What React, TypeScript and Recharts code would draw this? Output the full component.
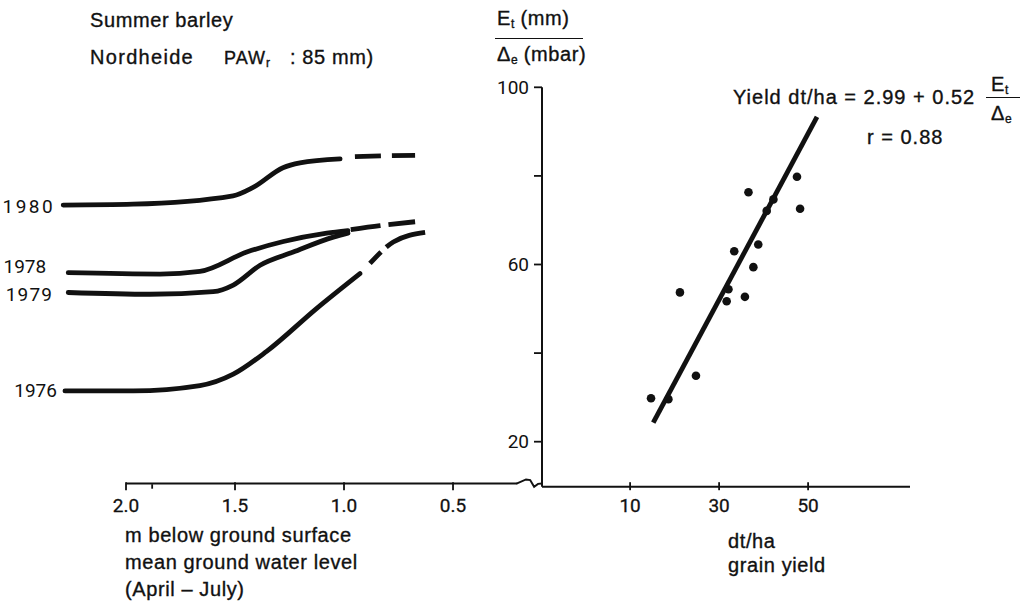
import React from 'react';
import {
  LineChart,
  ComposedChart,
  Line,
  Scatter,
  XAxis,
  YAxis,
  ReferenceLine,
} from 'recharts';

// left panel: yield curves against mean ground water depth (m)
const depthTicks = [2.0, 1.88, 1.5, 1.0, 0.5];
const depthTickLabels = ['2.0', '', '1.5', '1.0', '0.5'];

const curve1980 = [
  { depth: 2.288, value: 73.2 },
  { depth: 1.968, value: 73.4 },
  { depth: 1.509, value: 75.3 },
  { depth: 1.417, value: 77.2 },
  { depth: 1.28, value: 81.7 },
  { depth: 1.202, value: 82.8 },
  { depth: 1.018, value: 83.7 },
];
const curve1980Dashed = [
  { depth: 0.95, value: 84.2 },
  { depth: 0.812, value: 84.4 },
  { depth: 0.674, value: 84.5 },
];

const curve1978 = [
  { depth: 2.265, value: 57.8 },
  { depth: 1.844, value: 57.5 },
  { depth: 1.661, value: 58.1 },
  { depth: 1.446, value: 62.5 },
  { depth: 1.278, value: 64.9 },
  { depth: 1.079, value: 66.8 },
  { depth: 0.982, value: 67.4 },
];
const curve1978Dashed = [
  { depth: 0.969, value: 67.6 },
  { depth: 0.835, value: 68.5 },
  { depth: 0.674, value: 69.4 },
];

const curve1979 = [
  { depth: 2.265, value: 53.3 },
  { depth: 1.89, value: 52.9 },
  { depth: 1.6, value: 53.5 },
  { depth: 1.508, value: 55.0 },
  { depth: 1.385, value: 59.5 },
  { depth: 1.233, value: 62.5 },
  { depth: 1.049, value: 65.9 },
  { depth: 0.982, value: 66.8 },
];

const curve1976 = [
  { depth: 2.28, value: 30.9 },
  { depth: 1.967, value: 30.9 },
  { depth: 1.661, value: 32.1 },
  { depth: 1.508, value: 34.7 },
  { depth: 1.355, value: 39.9 },
  { depth: 1.125, value: 49.7 },
  { depth: 0.927, value: 57.6 },
];
const curve1976Dashed = [
  { depth: 0.881, value: 59.9 },
  { depth: 0.774, value: 64.8 },
  { depth: 0.628, value: 67.0 },
];

// zigzag where the shared baseline is broken between the panels
const axisBreak = [
  { depth: 0.206, value: 9.84 },
  { depth: 0.165, value: 10.75 },
  { depth: 0.146, value: 10.6 },
  { depth: 0.128, value: 9.1 },
  { depth: 0.11, value: 9.75 },
  { depth: 0.092, value: 9.84 },
];

// right panel: grain yield (dt/ha) against Et/Δe
const yieldTicks = [10, 30, 50];
const ratioTicks = [20, 40, 60, 80, 100];
const ratioTickLabels = ['20', '', '60', '', '100'];

const yieldPoints = [
  { yield: 47.5, ratio: 79.8 },
  { yield: 36.6, ratio: 76.3 },
  { yield: 42.2, ratio: 74.7 },
  { yield: 48.2, ratio: 72.6 },
  { yield: 40.7, ratio: 72.1 },
  { yield: 38.8, ratio: 64.5 },
  { yield: 33.4, ratio: 63.0 },
  { yield: 37.7, ratio: 59.4 },
  { yield: 32.1, ratio: 54.4 },
  { yield: 21.2, ratio: 53.7 },
  { yield: 31.7, ratio: 51.7 },
  { yield: 35.8, ratio: 52.7 },
  { yield: 24.8, ratio: 34.9 },
  { yield: 14.7, ratio: 29.8 },
  { yield: 18.6, ratio: 29.6 },
];

const regressionLine = [
  { yield: 15.2, ratio: 24.3 },
  { yield: 52.0, ratio: 93.3 },
];

const INK = '#111';
const TICK_SIZE = 6;
const TICK_MARGIN = 6;

const CrossTick = (props: any) => {
  const { x, y, payload, labels, values } = props;
  const axisY = y - TICK_SIZE - TICK_MARGIN;
  const idx = values.indexOf(payload.value);
  const text = idx >= 0 ? labels[idx] : String(payload.value);
  const minor = text === '';
  return (
    <g>
      <line
        x1={x}
        x2={x}
        y1={axisY - (minor ? 2.5 : 4.5)}
        y2={axisY + (minor ? 2 : 3.5)}
        stroke={INK}
        strokeWidth={1.8}
      />
      <text
        x={x}
        y={y}
        dy="0.71em"
        textAnchor="middle"
        fontSize={19}
        fontFamily="Roboto, sans-serif"
        fill={INK}
        stroke={INK}
        strokeWidth={0.3}
      >
        {text}
      </text>
    </g>
  );
};

const yearLabel = (year: string, dx: number, dy: number, spacing: number) => (props: any) => {
  if (props.index !== 0) return null;
  return (
    <text
      x={props.x - dx}
      y={props.y + dy}
      textAnchor="end"
      dominantBaseline="central"
      fontSize={19}
      fontFamily="Roboto, sans-serif"
      letterSpacing={spacing}
      fill={INK}
    >
      {year}
    </text>
  );
};

const Dot = (props: any) => <circle cx={props.cx} cy={props.cy} r={4.3} fill={INK} />;

const lineStyle = {
  stroke: INK,
  strokeWidth: 4.8,
  strokeLinecap: 'round' as const,
  dot: false,
  activeDot: false,
  type: 'monotone' as const,
  dataKey: 'value',
  isAnimationActive: false,
};

const textBase: React.CSSProperties = {
  position: 'absolute',
  fontFamily: '"Liberation Sans", Arial, sans-serif',
  fontSize: 20,
  lineHeight: 1,
  color: INK,
  whiteSpace: 'nowrap',
  letterSpacing: 0.6,
  WebkitTextStroke: '0.35px #111',
};

const sub: React.CSSProperties = { fontSize: 12, verticalAlign: -3, letterSpacing: 0 };

export default function App() {
  return (
    <div
      style={{
        position: 'absolute',
        left: 0,
        top: 0,
        width: 1027,
        height: 604,
        background: '#fff',
        overflow: 'hidden',
      }}
    >
      <div style={{ position: 'absolute', left: 0, top: 0 }}>
        <LineChart
          width={1027}
          height={604}
          margin={{ top: 87.3, right: 484.6, bottom: 87.3, left: 38.8 }}
        >
          <XAxis
            type="number"
            dataKey="depth"
            domain={[0.09, 2.4]}
            reversed
            ticks={depthTicks}
            interval={0}
            height={30}
            axisLine={false}
            tickLine={false}
            tickSize={TICK_SIZE}
            tickMargin={TICK_MARGIN}
            tick={<CrossTick labels={depthTickLabels} values={depthTicks} />}
          />
          <YAxis hide type="number" domain={[9.84, 100]} />
          <ReferenceLine
            segment={[
              { x: 2.0, y: 9.84 },
              { x: 0.206, y: 9.84 },
            ]}
            stroke={INK}
            strokeWidth={2}
          />
          <Line data={axisBreak} {...lineStyle} type="linear" strokeWidth={2} />
          <Line data={curve1980} {...lineStyle} label={yearLabel('1980', 8, 1, 2.5)} />
          <Line data={curve1980Dashed} {...lineStyle} strokeDasharray="26 11" strokeLinecap="butt" />
          <Line data={curve1978} {...lineStyle} label={yearLabel('1978', 22, -6, 0)} />
          <Line data={curve1978Dashed} {...lineStyle} strokeDasharray="30 8" strokeLinecap="butt" />
          <Line data={curve1979} {...lineStyle} label={yearLabel('1979', 15, 2, 1.2)} />
          <Line data={curve1976} {...lineStyle} label={yearLabel('1976', 8, 0, 0)} />
          <Line data={curve1976Dashed} {...lineStyle} strokeDasharray="16 7 44 8" strokeLinecap="butt" />
        </LineChart>
      </div>

      <div style={{ position: 'absolute', left: 0, top: 0 }}>
        <ComposedChart
          width={1027}
          height={604}
          margin={{ top: 87.3, right: 117, bottom: 87.3, left: 492 }}
        >
          <XAxis
            type="number"
            dataKey="yield"
            domain={[-9.8, 72.9]}
            ticks={yieldTicks}
            interval={0}
            height={30}
            axisLine={{ stroke: INK, strokeWidth: 2 }}
            tickLine={false}
            tickSize={TICK_SIZE}
            tickMargin={TICK_MARGIN}
            tick={<CrossTick labels={yieldTicks.map(String)} values={yieldTicks} />}
          />
          <YAxis
            type="number"
            domain={[9.84, 100]}
            ticks={ratioTicks}
            interval={0}
            width={50}
            axisLine={{ stroke: INK, strokeWidth: 2 }}
            tickLine={{ stroke: INK, strokeWidth: 1.8 }}
            tickSize={8}
            tickMargin={5}
            tickFormatter={(v: number) => ratioTickLabels[ratioTicks.indexOf(v)] ?? String(v)}
            tick={{ fontSize: 19, fontFamily: 'Roboto, sans-serif', fill: INK }}
          />
          <Line
            data={regressionLine}
            dataKey="ratio"
            type="linear"
            stroke={INK}
            strokeWidth={4.8}
            dot={false}
            activeDot={false}
            isAnimationActive={false}
          />
          <Scatter data={yieldPoints} dataKey="ratio" shape={<Dot />} isAnimationActive={false} />
        </ComposedChart>
      </div>

      {/* panel titles and captions */}
      <div style={{ ...textBase, left: 90, top: 10 }}>Summer barley</div>
      <div style={{ ...textBase, left: 90, top: 47 }}>
        <span style={{ letterSpacing: 1.3 }}>Nordheide</span>
        <span style={{ marginLeft: 30, fontSize: 18, letterSpacing: 1 }}>
          PAW<sub style={sub}>r</sub>
        </span>
        <span style={{ marginLeft: 20 }}>: 85 mm)</span>
      </div>

      <div style={{ ...textBase, left: 497, top: 8 }}>
        E<sub style={sub}>t</sub> (mm)
      </div>
      <div style={{ position: 'absolute', left: 495, top: 38, width: 88, height: 0, borderTop: `1.5px solid ${INK}` }} />
      <div style={{ ...textBase, left: 497, top: 44 }}>
        Δ<sub style={sub}>e</sub> (mbar)
      </div>

      <div style={{ ...textBase, left: 733, top: 87, letterSpacing: 1 }}>Yield dt/ha = 2.99 + 0.52</div>
      <div style={{ ...textBase, left: 991, top: 74 }}>
        E<sub style={sub}>t</sub>
      </div>
      <div style={{ position: 'absolute', left: 986, top: 97, width: 34, height: 0, borderTop: `1.5px solid ${INK}` }} />
      <div style={{ ...textBase, left: 991, top: 103 }}>
        Δ<sub style={sub}>e</sub>
      </div>
      <div style={{ ...textBase, left: 867, top: 127, letterSpacing: 1 }}>r = 0.88</div>

      <div style={{ ...textBase, left: 125, top: 525 }}>m below ground surface</div>
      <div style={{ ...textBase, left: 125, top: 552 }}>mean ground water level</div>
      <div style={{ ...textBase, left: 125, top: 579 }}>(April – July)</div>

      <div style={{ ...textBase, left: 728, top: 531 }}>dt/ha</div>
      <div style={{ ...textBase, left: 728, top: 555 }}>grain yield</div>
    </div>
  );
}
